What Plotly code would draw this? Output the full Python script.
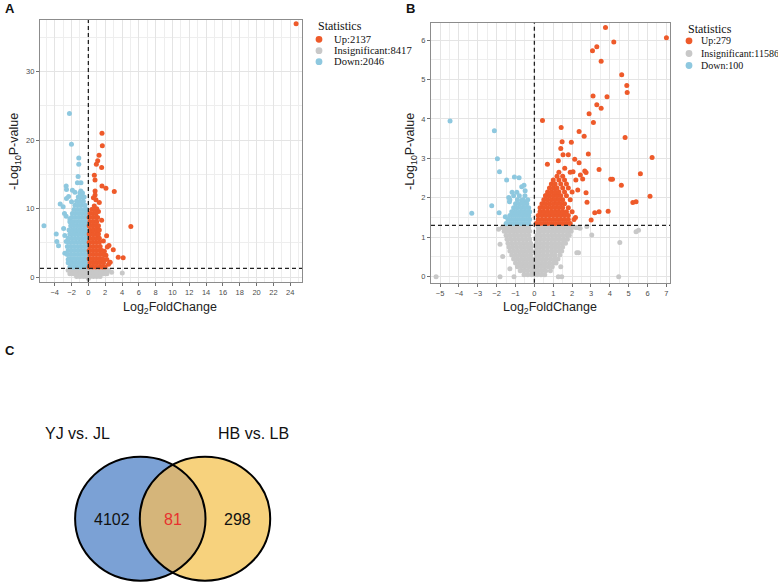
import numpy as np
import plotly.graph_objects as go

# ---------------- Panel A (YJ vs. JL) ----------------
up_a = [
    (24.7, 37.0), (1.62, 21.0), (1.66, 19.2), (1.27, 17.8), (1.11, 17.0), (0.95, 16.5), (1.58, 16.0),
    (0.71, 14.9), (0.79, 14.2), (1.62, 13.3), (2.09, 13.0), (3.08, 12.5), (0.8, 12.6), (0.8, 12.0),
    (0.9, 11.3), (1.3, 10.9), (5.05, 7.4), (1.58, 8.3), (2.17, 6.05), (1.78, 5.27), (2.45, 4.64),
    (2.25, 4.4), (2.96, 4.0), (3.55, 2.93), (4.14, 2.84), (2.09, 3.2), (1.78, 2.4), (2.4, 1.9),
    (0.7, 10.4), (1.0, 10.0), (0.6, 11.6), (1.2, 9.6), (2.2, 2.6), (2.6, 2.2), (1.9, 3.8),
    (0.1, 1.5), (0.5, 1.5), (0.9, 1.5), (1.3, 1.5), (1.7, 1.5), (2.0, 1.5),
    (0.2, 2.1), (0.6, 2.1), (1.0, 2.1), (1.4, 2.1), (1.8, 2.1),
    (0.1, 2.7), (0.5, 2.7), (0.9, 2.7), (1.3, 2.7), (1.7, 2.7),
    (0.2, 3.3), (0.6, 3.3), (1.0, 3.3), (1.4, 3.3), (1.8, 3.3),
    (0.1, 3.9), (0.5, 3.9), (0.9, 3.9), (1.3, 3.9), (1.6, 3.9),
    (0.2, 4.5), (0.6, 4.5), (1.0, 4.5), (1.4, 4.5),
    (0.1, 5.1), (0.5, 5.1), (0.9, 5.1), (1.3, 5.1),
    (0.2, 5.7), (0.6, 5.7), (1.0, 5.7), (1.3, 5.7),
    (0.1, 6.3), (0.5, 6.3), (0.9, 6.3), (1.2, 6.3),
    (0.2, 6.9), (0.6, 6.9), (1.0, 6.9), (1.3, 6.9),
    (0.1, 7.5), (0.5, 7.5), (0.9, 7.5), (1.2, 7.5),
    (0.2, 8.1), (0.6, 8.1), (1.0, 8.1),
    (0.1, 8.7), (0.5, 8.7), (0.9, 8.7), (1.1, 8.7),
    (0.2, 9.3), (0.6, 9.3), (0.9, 9.3),
    (0.4, 9.9), (0.8, 9.9),
]
down_a = [
    (-2.25, 23.9), (-2.01, 19.4), (-1.14, 17.4), (-1.14, 16.5), (-1.22, 14.7), (-1.3, 13.8),
    (-0.88, 13.8), (-2.64, 13.3), (-2.6, 12.8), (-1.9, 12.7), (-3.35, 10.7), (-2.6, 11.5),
    (-2.35, 11.8), (-2.84, 9.3), (-2.64, 8.9), (-2.2, 8.5), (-5.28, 7.5), (-2.94, 7.1),
    (-3.82, 6.3), (-3.75, 5.2), (-3.55, 4.6), (-2.8, 6.1), (-2.64, 5.2), (-2.8, 3.5),
    (-2.4, 2.6), (-2.2, 2.1), (-1.6, 12.4), (-0.9, 12.6), (-2.0, 11.0), (-3.0, 10.3),
    (-2.2, 1.5), (-1.8, 1.5), (-1.4, 1.5), (-1.0, 1.5), (-0.6, 1.5), (-0.2, 1.5),
    (-2.4, 2.1), (-2.0, 2.1), (-1.6, 2.1), (-1.2, 2.1), (-0.8, 2.1), (-0.4, 2.1), (-0.1, 2.1),
    (-2.3, 2.7), (-1.9, 2.7), (-1.5, 2.7), (-1.1, 2.7), (-0.7, 2.7), (-0.3, 2.7),
    (-2.5, 3.3), (-2.1, 3.3), (-1.7, 3.3), (-1.3, 3.3), (-0.9, 3.3), (-0.5, 3.3), (-0.1, 3.3),
    (-2.4, 3.9), (-2.0, 3.9), (-1.6, 3.9), (-1.2, 3.9), (-0.8, 3.9), (-0.4, 3.9),
    (-2.5, 4.5), (-2.1, 4.5), (-1.7, 4.5), (-1.3, 4.5), (-0.9, 4.5), (-0.5, 4.5), (-0.1, 4.5),
    (-2.3, 5.1), (-1.9, 5.1), (-1.5, 5.1), (-1.1, 5.1), (-0.7, 5.1), (-0.3, 5.1),
    (-2.4, 5.7), (-2.0, 5.7), (-1.6, 5.7), (-1.2, 5.7), (-0.8, 5.7), (-0.4, 5.7), (-0.1, 5.7),
    (-2.2, 6.3), (-1.8, 6.3), (-1.4, 6.3), (-1.0, 6.3), (-0.6, 6.3), (-0.2, 6.3),
    (-2.3, 6.9), (-1.9, 6.9), (-1.5, 6.9), (-1.1, 6.9), (-0.7, 6.9), (-0.3, 6.9),
    (-2.1, 7.5), (-1.7, 7.5), (-1.3, 7.5), (-0.9, 7.5), (-0.5, 7.5), (-0.1, 7.5),
    (-2.2, 8.1), (-1.8, 8.1), (-1.4, 8.1), (-1.0, 8.1), (-0.6, 8.1), (-0.2, 8.1),
    (-2.0, 8.7), (-1.6, 8.7), (-1.2, 8.7), (-0.8, 8.7), (-0.4, 8.7),
    (-1.9, 9.3), (-1.5, 9.3), (-1.1, 9.3), (-0.7, 9.3), (-0.3, 9.3),
    (-1.7, 9.9), (-1.3, 9.9), (-0.9, 9.9), (-0.5, 9.9), (-0.2, 9.9),
    (-1.6, 10.5), (-1.2, 10.5), (-0.8, 10.5), (-0.4, 10.5),
    (-1.4, 11.1), (-1.0, 11.1), (-0.6, 11.1),
    (-1.2, 11.7), (-0.8, 11.7), (-0.5, 11.7),
    (-1.0, 12.3), (-0.7, 12.3),
]
insig_a = [
    (-2.4, 1.0), (-2.0, 1.0), (-1.6, 1.0), (-1.2, 1.0), (-0.8, 1.0), (-0.4, 1.0), (0.0, 1.0),
    (0.4, 1.0), (0.8, 1.0), (1.2, 1.0), (1.6, 1.0), (2.0, 1.0), (2.4, 1.0),
    (-2.2, 0.5), (-1.8, 0.5), (-1.4, 0.5), (-1.0, 0.5), (-0.6, 0.5), (-0.2, 0.5), (0.2, 0.5),
    (0.6, 0.5), (1.0, 0.5), (1.4, 0.5), (1.8, 0.5), (2.2, 0.5),
    (-1.4, 0.1), (-1.0, 0.1), (-0.6, 0.1), (-0.2, 0.1), (0.0, -0.2), (0.2, 0.1), (0.6, 0.1),
    (1.0, 0.1), (1.4, 0.1), (2.77, 0.73), (4.03, 0.6),
]
stat_a = [2137, 8417, 2046]          # Up, Insignificant, Down

# ---------------- Panel B (HB vs. LB) ----------------
up_b = [
    (7.0, 6.06), (3.77, 6.32), (4.21, 5.95), (3.31, 5.83), (3.08, 5.73), (3.54, 5.46), (4.63, 5.12),
    (4.9, 4.85), (4.92, 4.67), (3.11, 4.58), (3.85, 4.56), (3.31, 4.36), (3.54, 4.27), (2.9, 4.13),
    (3.13, 3.91), (0.43, 3.96), (1.42, 3.78), (2.37, 3.68), (2.64, 3.56), (4.81, 3.53), (1.47, 3.42),
    (1.96, 3.41), (1.4, 3.25), (2.86, 3.11), (1.52, 3.09), (1.8, 3.09), (6.24, 3.02), (2.14, 2.98),
    (1.27, 2.94), (2.37, 2.89), (0.69, 2.85), (1.61, 2.75), (3.43, 2.72), (2.67, 2.68), (2.74, 2.64),
    (2.44, 2.58), (5.62, 2.61), (2.05, 2.66), (4.05, 2.47), (4.14, 2.47), (2.56, 2.48), (4.61, 2.32),
    (2.3, 2.2), (2.74, 2.13), (6.13, 2.04), (2.79, 1.89), (5.22, 1.88), (5.39, 1.9), (3.91, 1.66),
    (3.43, 1.65), (3.2, 1.62), (3.01, 1.44), (2.18, 1.5), (0.59, 2.05),
    (0.1, 1.35), (0.3, 1.35), (0.5, 1.35), (0.7, 1.35), (0.9, 1.35), (1.1, 1.35), (1.3, 1.35),
    (1.5, 1.35), (1.7, 1.35), (1.9, 1.35),
    (0.2, 1.45), (0.4, 1.45), (0.6, 1.45), (0.8, 1.45), (1.0, 1.45), (1.2, 1.45), (1.4, 1.45),
    (1.6, 1.45), (1.8, 1.45), (2.1, 1.45),
    (0.2, 1.55), (0.4, 1.55), (0.6, 1.55), (0.8, 1.55), (1.0, 1.55), (1.2, 1.55), (1.4, 1.55),
    (1.6, 1.55), (1.8, 1.55),
    (0.3, 1.65), (0.5, 1.65), (0.7, 1.65), (0.9, 1.65), (1.1, 1.65), (1.3, 1.65), (1.5, 1.65),
    (1.7, 1.65), (2.0, 1.65),
    (0.3, 1.75), (0.5, 1.75), (0.7, 1.75), (0.9, 1.75), (1.1, 1.75), (1.3, 1.75), (1.5, 1.75),
    (1.8, 1.75),
    (0.4, 1.85), (0.6, 1.85), (0.8, 1.85), (1.0, 1.85), (1.2, 1.85), (1.4, 1.85), (1.6, 1.85),
    (0.5, 1.95), (0.7, 1.95), (0.9, 1.95), (1.1, 1.95), (1.3, 1.95), (1.5, 1.95), (1.9, 1.95),
    (0.6, 2.05), (0.8, 2.05), (1.0, 2.05), (1.2, 2.05), (1.4, 2.05), (1.7, 2.05),
    (0.7, 2.15), (0.9, 2.15), (1.1, 2.15), (1.3, 2.15), (1.6, 2.15), (2.0, 2.15),
    (0.8, 2.25), (1.0, 2.25), (1.2, 2.25), (1.5, 2.25), (1.8, 2.25),
    (0.9, 2.35), (1.1, 2.35), (1.4, 2.35), (1.7, 2.35),
    (1.0, 2.45), (1.3, 2.45), (1.6, 2.45), (2.2, 2.45),
    (1.2, 2.55), (1.5, 2.55), (1.3, 2.65), (1.9, 2.65),
]
down_b = [
    (-4.47, 3.95), (-2.12, 3.70), (-1.96, 2.99), (-1.85, 2.66), (-1.47, 2.45), (-1.06, 2.53),
    (-0.81, 2.51), (-3.32, 1.61), (-2.26, 1.8), (-1.87, 1.62), (-0.55, 2.32), (-0.67, 2.28),
    (-0.49, 2.18), (-1.18, 2.14), (-0.93, 2.14), (-1.36, 2.01), (-1.32, 1.9), (-1.54, 1.52),
    (-0.67, 1.94), (-0.53, 1.9),
    (-1.5, 1.35), (-1.3, 1.35), (-1.1, 1.35), (-0.9, 1.35), (-0.7, 1.35), (-0.5, 1.35), (-0.3, 1.35),
    (-1.4, 1.45), (-1.2, 1.45), (-1.0, 1.45), (-0.8, 1.45), (-0.6, 1.45), (-0.4, 1.45), (-0.25, 1.45),
    (-1.3, 1.55), (-1.1, 1.55), (-0.9, 1.55), (-0.7, 1.55), (-0.5, 1.55), (-0.3, 1.55),
    (-1.2, 1.65), (-1.0, 1.65), (-0.8, 1.65), (-0.6, 1.65), (-0.4, 1.65), (-0.25, 1.65),
    (-1.1, 1.75), (-0.9, 1.75), (-0.7, 1.75), (-0.5, 1.75), (-0.3, 1.75),
    (-1.0, 1.85), (-0.8, 1.85), (-0.6, 1.85), (-0.4, 1.85),
    (-1.3, 1.95), (-0.9, 1.95), (-0.6, 1.95), (-0.35, 1.95),
    (-1.1, 2.05), (-0.8, 2.05), (-0.5, 2.05),
]
insig_b = [
    (-1.7, 1.25), (-1.5, 1.25), (-1.3, 1.25), (-1.1, 1.25), (-0.9, 1.25), (-0.7, 1.25), (-0.5, 1.25),
    (-0.3, 1.25), (0.2, 1.25), (0.4, 1.25), (0.6, 1.25), (0.8, 1.25), (1.0, 1.25), (1.2, 1.25),
    (1.4, 1.25), (1.6, 1.25), (1.8, 1.25), (2.0, 1.25), (2.2, 1.25),
    (-1.6, 1.15), (-1.4, 1.15), (-1.2, 1.15), (-1.0, 1.15), (-0.8, 1.15), (-0.6, 1.15), (-0.4, 1.15),
    (-0.25, 1.15), (0.2, 1.15), (0.35, 1.15), (0.55, 1.15), (0.75, 1.15), (0.95, 1.15), (1.15, 1.15),
    (1.35, 1.15), (1.55, 1.15), (1.75, 1.15), (1.95, 1.15),
    (-1.5, 1.05), (-1.3, 1.05), (-1.1, 1.05), (-0.9, 1.05), (-0.7, 1.05), (-0.5, 1.05), (-0.3, 1.05),
    (0.15, 1.05), (0.3, 1.05), (0.5, 1.05), (0.7, 1.05), (0.9, 1.05), (1.1, 1.05), (1.3, 1.05),
    (1.5, 1.05), (1.7, 1.05), (1.85, 1.05),
    (-1.45, 0.95), (-1.25, 0.95), (-1.05, 0.95), (-0.85, 0.95), (-0.65, 0.95), (-0.45, 0.95),
    (-0.25, 0.95), (0.15, 0.95), (0.35, 0.95), (0.55, 0.95), (0.75, 0.95), (0.95, 0.95),
    (1.15, 0.95), (1.35, 0.95), (1.55, 0.95), (1.75, 0.95),
    (-1.4, 0.85), (-1.2, 0.85), (-1.0, 0.85), (-0.8, 0.85), (-0.6, 0.85), (-0.4, 0.85), (-0.2, 0.85),
    (0.12, 0.85), (0.3, 0.85), (0.5, 0.85), (0.7, 0.85), (0.9, 0.85), (1.1, 0.85), (1.3, 0.85),
    (1.5, 0.85), (1.65, 0.85),
    (-1.35, 0.75), (-1.15, 0.75), (-0.95, 0.75), (-0.75, 0.75), (-0.55, 0.75), (-0.35, 0.75),
    (-0.18, 0.75), (0.12, 0.75), (0.3, 0.75), (0.5, 0.75), (0.7, 0.75), (0.9, 0.75), (1.1, 0.75),
    (1.3, 0.75), (1.5, 0.75),
    (-1.3, 0.65), (-1.1, 0.65), (-0.9, 0.65), (-0.7, 0.65), (-0.5, 0.65), (-0.3, 0.65), (-0.15, 0.65),
    (0.1, 0.65), (0.3, 0.65), (0.5, 0.65), (0.7, 0.65), (0.9, 0.65), (1.1, 0.65), (1.3, 0.65),
    (1.45, 0.65),
    (-1.2, 0.55), (-1.0, 0.55), (-0.8, 0.55), (-0.6, 0.55), (-0.4, 0.55), (-0.2, 0.55), (0.1, 0.55),
    (0.3, 0.55), (0.5, 0.55), (0.7, 0.55), (0.9, 0.55), (1.1, 0.55), (1.35, 0.55),
    (-1.1, 0.45), (-0.9, 0.45), (-0.7, 0.45), (-0.5, 0.45), (-0.3, 0.45), (-0.12, 0.45), (0.08, 0.45),
    (0.25, 0.45), (0.45, 0.45), (0.65, 0.45), (0.85, 0.45), (1.05, 0.45), (1.25, 0.45),
    (-1.0, 0.35), (-0.8, 0.35), (-0.6, 0.35), (-0.4, 0.35), (-0.2, 0.35), (-0.06, 0.35), (0.06, 0.35),
    (0.2, 0.35), (0.4, 0.35), (0.6, 0.35), (0.8, 0.35), (1.0, 0.35), (1.15, 0.35),
    (-0.9, 0.25), (-0.7, 0.25), (-0.5, 0.25), (-0.3, 0.25), (-0.12, 0.25), (0.0, 0.25), (0.15, 0.25),
    (0.35, 0.25), (0.55, 0.25), (0.75, 0.25), (0.95, 0.25),
    (-0.75, 0.15), (-0.55, 0.15), (-0.35, 0.15), (-0.15, 0.15), (0.0, 0.15), (0.2, 0.15), (0.4, 0.15),
    (0.6, 0.15), (0.85, 0.15),
    (-0.55, 0.05), (-0.35, 0.05), (-0.15, 0.05), (0.0, 0.05), (0.15, 0.05), (0.35, 0.05), (0.55, 0.05),
    (-5.21, 0.0), (-1.82, 0.0), (-1.08, 0.0), (4.47, 0.0), (4.53, 0.87), (3.04, 1.06), (2.25, 0.61),
    (2.34, 0.61), (5.39, 1.14), (5.52, 1.18), (-1.82, 0.82), (-1.68, 0.51), (1.45, 0.0), (1.27, 0.0),
    (2.78, 1.27), (2.42, 1.23), (1.89, 1.2), (2.3, 1.25), (-1.9, 1.2), (-1.3, 0.2), (1.4, 0.25),
]
stat_b = [279, 11586, 100]           # Up, Insignificant, Down

stat_names = ["Up", "Insignificant", "Down"]
stat_colors = ["#EE5A2A", "#C8C8C8", "#8EC8DF"]

# ---------------- Panel C (Venn) ----------------
venn_sets = ["YJ vs. JL", "HB vs. LB"]
venn_counts = [4102, 81, 298]        # only set 1, shared, only set 2

# ---------------- layout helpers ----------------
W, H = 778, 583
def px(x):
    return x / W
def py(y):
    return 1 - y / H

fig = go.Figure()

def add_points(pts, color, xa, ya):
    xs = [p[0] for p in pts]
    ys = [p[1] for p in pts]
    fig.add_trace(go.Scatter(x=xs, y=ys, mode="markers", xaxis=xa, yaxis=ya,
                             marker=dict(size=5, color=color, line=dict(width=0)),
                             showlegend=False, hoverinfo="skip"))

add_points(insig_a, stat_colors[1], "x", "y")
add_points(down_a, stat_colors[2], "x", "y")
add_points(up_a, stat_colors[0], "x", "y")
add_points(insig_b, stat_colors[1], "x2", "y2")
add_points(down_b, stat_colors[2], "x2", "y2")
add_points(up_b, stat_colors[0], "x2", "y2")

tickfont = dict(family="Liberation Sans, Arial", size=7.5, color="#4d4d4d")
axis_common = dict(showline=True, mirror=True, linecolor="#8c8c8c", linewidth=1.2,
                   ticks="outside", ticklen=3, tickcolor="#6f6f6f", tickwidth=1,
                   tickfont=tickfont, showgrid=True, gridcolor="#e4e4e4", gridwidth=1,
                   zeroline=False)

fig.update_layout(
    width=W, height=H, margin=dict(l=0, r=0, t=0, b=0),
    paper_bgcolor="white", plot_bgcolor="white",
    xaxis=dict(domain=[px(40), px(302)], range=[-5.75, 25.4], dtick=2, tick0=0, anchor="y",
               minor=dict(dtick=1, showgrid=True, gridcolor="#eeeeee", gridwidth=0.6), **axis_common),
    yaxis=dict(domain=[py(282), py(20)], range=[-0.7, 37.55], dtick=10, tick0=0, anchor="x",
               minor=dict(dtick=5, showgrid=True, gridcolor="#eeeeee", gridwidth=0.6), **axis_common),
    xaxis2=dict(domain=[px(431), px(670)], range=[-5.48, 7.19], dtick=1, tick0=0, anchor="y2",
                minor=dict(dtick=0.5, showgrid=True, gridcolor="#eeeeee", gridwidth=0.6), **axis_common),
    yaxis2=dict(domain=[py(282.7), py(22.7)], range=[-0.152, 6.44], dtick=1, tick0=0, anchor="x2",
                minor=dict(dtick=0.5, showgrid=True, gridcolor="#eeeeee", gridwidth=0.6), **axis_common),
)

shapes = []
annotations = []
# threshold dashed lines
for xr, yr in (("x", "y"), ("x2", "y2")):
    shapes.append(dict(type="line", xref=xr, yref=yr + " domain", x0=0, x1=0, y0=0, y1=1,
                       line=dict(color="#222222", width=1.3, dash="4px,3px")))
    shapes.append(dict(type="line", xref=xr + " domain", yref=yr, x0=0, x1=1, y0=1.301, y1=1.301,
                       line=dict(color="#222222", width=1.3, dash="4px,3px")))

# axis titles
title_font = dict(family="Liberation Sans, Arial", size=12.5, color="#222222")
for cx in (170, 550):
    annotations.append(dict(text="Log<sub>2</sub>FoldChange", x=px(cx), y=py(298), xref="paper",
                            yref="paper", showarrow=False, font=title_font,
                            xanchor="center", yanchor="top"))
for cx, cy in ((15, 152), (411, 151)):
    annotations.append(dict(text="-Log<sub>10</sub>P-value", x=px(cx), y=py(cy), xref="paper",
                            yref="paper", showarrow=False, font=title_font, textangle=-90,
                            xanchor="center", yanchor="middle"))

# legends (Statistics)
serif = "Liberation Serif, Times New Roman"
legend_specs = [
    (stat_a, 316, 25.5, 319, 331.5, [39.3, 50.7, 61.7], 10.6),
    (stat_b, 686, 28.7, 689, 699.0, [40.8, 53.5, 65.5], 10.0),
]
for counts, tx, ty, mx, ix, iys, fs in legend_specs:
    annotations.append(dict(text="Statistics", x=px(tx), y=py(ty), xref="paper", yref="paper",
                            showarrow=False, xanchor="left", yanchor="middle",
                            font=dict(family=serif, size=12, color="#111111")))
    for name, n, col, iy in zip(stat_names, counts, stat_colors, iys):
        r = 3.4
        shapes.append(dict(type="circle", xref="paper", yref="paper",
                           x0=px(mx - r), x1=px(mx + r), y0=py(iy + r), y1=py(iy - r),
                           fillcolor=col, line=dict(width=0)))
        annotations.append(dict(text=f"{name}:{n}", x=px(ix), y=py(iy), xref="paper", yref="paper",
                                showarrow=False, xanchor="left", yanchor="middle",
                                font=dict(family=serif, size=fs, color="#111111")))

# panel letters
for letter, lx, ly in (("A", 10, 8), ("B", 411, 8), ("C", 9.5, 350)):
    annotations.append(dict(text=f"<b>{letter}</b>", x=px(lx), y=py(ly), xref="paper", yref="paper",
                            showarrow=False, xanchor="center", yanchor="middle",
                            font=dict(family="Liberation Sans, Arial", size=13, color="#111111")))

# Venn diagram
c1 = (140.3, 518.7)
c2 = (205.0, 518.7)
rx, ry = 65.2, 62.0
blue, yellow, overlap = "#7BA1D5", "#F7D27D", "#D5B57A"
for (cx, cy), col in ((c1, blue), (c2, yellow)):
    shapes.append(dict(type="circle", xref="paper", yref="paper", x0=px(cx - rx), x1=px(cx + rx),
                       y0=py(cy + ry), y1=py(cy - ry), fillcolor=col, line=dict(width=0)))
h = (c2[0] - c1[0]) / 2 / rx
th = np.arccos(h)
t1 = np.linspace(-th, th, 60)
t2 = np.linspace(np.pi - th, np.pi + th, 60)
lx_ = np.concatenate([c1[0] + rx * np.cos(t1), c2[0] + rx * np.cos(t2)])
ly_ = np.concatenate([c1[1] + ry * np.sin(t1), c2[1] + ry * np.sin(t2)])
path = "M " + " L ".join(f"{px(a):.5f},{py(b):.5f}" for a, b in zip(lx_, ly_)) + " Z"
shapes.append(dict(type="path", xref="paper", yref="paper", path=path, fillcolor=overlap,
                   line=dict(width=0)))
for (cx, cy) in (c1, c2):
    shapes.append(dict(type="circle", xref="paper", yref="paper", x0=px(cx - rx), x1=px(cx + rx),
                       y0=py(cy + ry), y1=py(cy - ry), line=dict(color="black", width=2)))

venn_font = dict(family="Liberation Sans, Arial", size=16, color="#111111")
for name, cx in zip(venn_sets, (77.8, 253.3)):
    annotations.append(dict(text=name, x=px(cx), y=py(433.5), xref="paper", yref="paper",
                            showarrow=False, xanchor="center", yanchor="middle", font=venn_font))
for n, cx, col in zip(venn_counts, (111.7, 172.8, 237.5), ("#111111", "#E8312F", "#111111")):
    annotations.append(dict(text=str(n), x=px(cx), y=py(519.7), xref="paper", yref="paper",
                            showarrow=False, xanchor="center", yanchor="middle",
                            font=dict(family="Liberation Sans, Arial", size=16, color=col)))

fig.update_layout(shapes=shapes, annotations=annotations)
fig.write_html("out.html", config={"displayModeBar": False},
               post_script="document.body.style.margin='0px';document.body.style.overflow='hidden';")
